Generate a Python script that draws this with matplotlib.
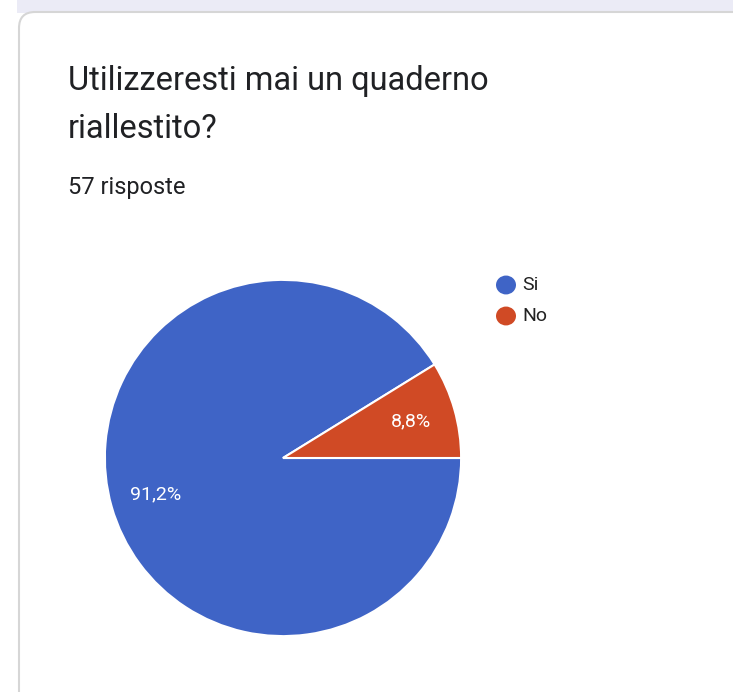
import matplotlib
matplotlib.use("Agg")
import matplotlib.pyplot as plt
import numpy as np
from matplotlib.patches import FancyBboxPatch, Rectangle, Circle

labels = ["Si", "No"]
values = [91.2, 8.8]
colors = ["#3f64c6", "#d04a25"]
title_lines = ["Utilizzeresti mai un quaderno", "riallestito?"]
subtitle = "57 risposte"

W, H = 733, 692
fig = plt.figure(figsize=(W / 100, H / 100), dpi=100)
fig.patch.set_facecolor("white")

def fx(x): return x / W
def fy(y): return 1 - y / H

# background strip and card
fig.patches.append(Rectangle((fx(17), fy(13)), 1, 13 / H, transform=fig.transFigure,
                             facecolor="#ebebf6", edgecolor="none", zorder=0))
fig.patches.append(FancyBboxPatch((fx(19), fy(720)), (W + 50) / W, 708 / H,
                                  boxstyle="round,pad=0,rounding_size=0.022",
                                  transform=fig.transFigure, facecolor="white",
                                  edgecolor="#d6d6d6", linewidth=1.5, zorder=1,
                                  mutation_aspect=W / H))

fam = ["Roboto", "DejaVu Sans"]
fig.text(fx(68), fy(90), title_lines[0], fontsize=23.5, family=fam, color="#202124", va="baseline")
fig.text(fx(68), fy(138), title_lines[1], fontsize=23.5, family=fam, color="#202124", va="baseline")
fig.text(fx(68), fy(194), subtitle, fontsize=17, family=fam, color="#202124", va="baseline")

cx, cy, r = 283, 458, 179
ax = fig.add_axes([fx(cx - r), fy(cy + r), 2 * r / W, 2 * r / H])
ax.set_zorder(2)

def fmt(p):
    return f"{p:.1f}%".replace(".", ",")

wedges = ax.pie(values, colors=colors, startangle=360 * values[1] / 100,
                counterclock=True, radius=1,
                wedgeprops=dict(edgecolor="white", linewidth=1.5))[0]
for w, v in zip(wedges, values):
    ang = np.deg2rad((w.theta1 + w.theta2) / 2)
    ax.text(0.745 * np.cos(ang), 0.745 * np.sin(ang), fmt(v), color="white",
            fontsize=14, family=fam, ha="center", va="center")
ax.set_xlim(-1.005, 1.005)
ax.set_ylim(-1.005, 1.005)
ax.set_aspect("auto")
ax.axis("off")

# legend
for i, (lab, col) in enumerate(zip(labels, colors)):
    y = 285 + 31 * i
    fig.patches.append(Circle((fx(506), fy(y)), 10 / W, transform=fig.transFigure,
                              facecolor=col, edgecolor="none", zorder=3))
    fig.text(fx(522), fy(y), lab, fontsize=14, family=fam, color="#222222",
             va="center", zorder=3)

fig.savefig("out.png", dpi=100, facecolor="white")
